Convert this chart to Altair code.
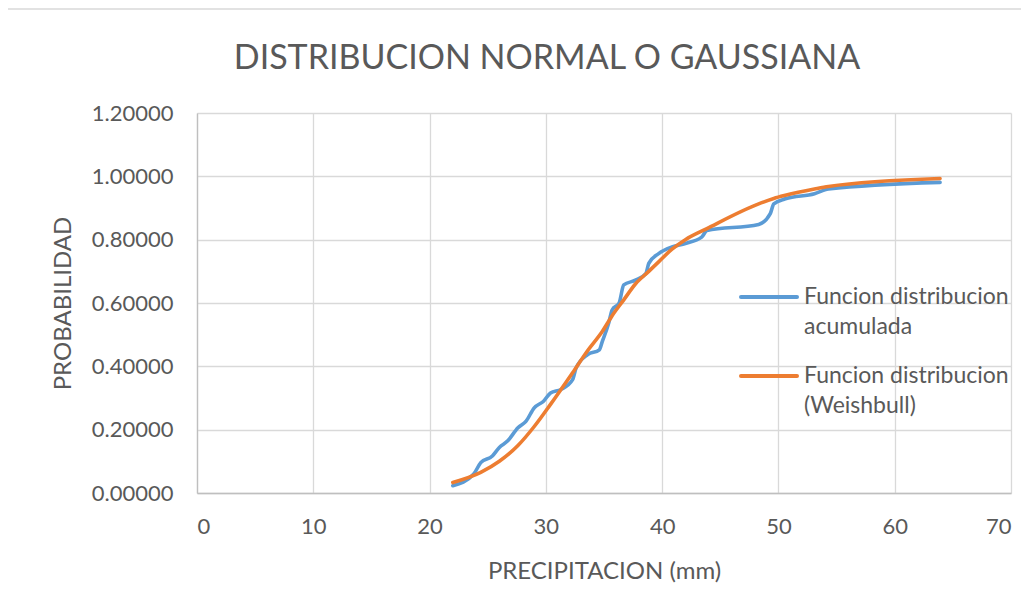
import altair as alt
import pandas as pd

acum_x = [22.0, 23.8, 24.4, 25.4, 26.0, 26.7, 27.6, 28.3, 29.0, 29.8, 30.4, 31.3,
          32.3, 32.6, 33.6, 34.6, 34.85, 35.4, 35.7, 36.3, 36.7, 37.7, 38.6, 38.85,
          39.7, 40.85, 42.0, 43.4, 43.85, 48.3, 49.3, 49.6, 50.6, 53.1, 54.3, 63.9]
acum_y = [0.023, 0.060, 0.096, 0.117, 0.144, 0.164, 0.206, 0.227, 0.269, 0.290, 0.316, 0.327,
          0.358, 0.395, 0.437, 0.452, 0.478, 0.536, 0.578, 0.600, 0.657, 0.672, 0.693, 0.725,
          0.756, 0.777, 0.788, 0.808, 0.829, 0.848, 0.882, 0.913, 0.929, 0.945, 0.960, 0.981]

# Orange: fitted distribution (Weishbull)
weib_x = [22.0, 24.4, 26.0, 27.6, 29.0, 30.4, 32.3, 33.6, 34.85, 35.7, 36.7, 37.7,
          38.85, 39.7, 40.85, 42.0, 43.85, 48.3, 49.6, 50.6, 53.1, 54.3, 63.9]
weib_y = [0.033, 0.065, 0.100, 0.150, 0.210, 0.280, 0.380, 0.450, 0.510, 0.560, 0.610, 0.660,
          0.700, 0.730, 0.770, 0.800, 0.835, 0.913, 0.930, 0.940, 0.960, 0.968, 0.993]

serie_a = "Funcion distribucion|acumulada"
serie_b = "Funcion distribucion|(Weishbull)"
series = [serie_a, serie_b]
colores = ["#5B9BD5", "#ED7D31"]

rows = [{"x": a, "y": b, "serie": serie_a, "ord": i} for i, (a, b) in enumerate(zip(acum_x, acum_y))]
rows += [{"x": a, "y": b, "serie": serie_b, "ord": i} for i, (a, b) in enumerate(zip(weib_x, weib_y))]
df = pd.DataFrame(rows)

FONT = "Lato"
GREY = "#595959"

color_enc = alt.Color("serie:N", scale=alt.Scale(domain=series, range=colores), legend=None)

frame = alt.Chart(pd.DataFrame({"k": [0]})).mark_rect(
    fill=None, stroke="#d9d9d9", strokeWidth=1.3, clip=False
).encode(
    x=alt.value(-190), x2=alt.value(840), y=alt.value(-104), y2=alt.value(520)
)

lines = alt.Chart(df).mark_line(strokeWidth=3.6, interpolate="monotone", strokeCap="round").encode(
    x=alt.X("x:Q", scale=alt.Scale(domain=[0, 70], nice=False),
            axis=alt.Axis(values=[0, 10, 20, 30, 40, 50, 60, 70], title="PRECIPITACION (mm)",
                          titlePadding=22)),
    y=alt.Y("y:Q", scale=alt.Scale(domain=[0, 1.2], nice=False),
            axis=alt.Axis(values=[0, 0.2, 0.4, 0.6, 0.8, 1.0, 1.2], format=".5f",
                          title="PROBABILIDAD", titlePadding=16)),
    color=color_enc,
    order="ord:Q",
)

# manual legend (positions in plot pixels)
leg_y = [184, 263]
legend_layers = []
for i, s in enumerate(series):
    d = pd.DataFrame({"serie": [s], "texto": [s]})
    legend_layers.append(
        alt.Chart(d).mark_rule(strokeWidth=4, strokeCap="round").encode(
            x=alt.value(544), x2=alt.value(600), y=alt.value(leg_y[i]), color=color_enc)
    )
    legend_layers.append(
        alt.Chart(d).mark_text(align="left", baseline="middle", lineBreak="|", lineHeight=30,
                               fontSize=23, font=FONT, color=GREY).encode(
            x=alt.value(607), y=alt.value(leg_y[i]), text="texto:N")
    )

chart = alt.layer(frame, lines, *legend_layers).properties(
    width=814, height=380,
    autosize=alt.AutoSizeParams(type="none"),
    padding={"left": 189, "top": 105, "right": 10, "bottom": 100},
    title=alt.TitleParams("DISTRIBUCION NORMAL O GAUSSIANA", fontSize=34, font=FONT,
                          fontWeight="normal", color=GREY, anchor="middle", dx=-57, offset=-68),
).configure_view(stroke=None).configure_axis(
    labelFont=FONT, labelFontSize=22, labelColor=GREY, titleFont=FONT, titleFontSize=24,
    titleColor=GREY, titleFontWeight="normal", gridColor="#d9d9d9", gridWidth=1.3,
    domainColor="#bfbfbf", domainWidth=1.3, ticks=False, labelPadding=23
).configure_axisY(labelPadding=24)

chart.save("out.html", embed_options={"renderer": "svg", "actions": False})
